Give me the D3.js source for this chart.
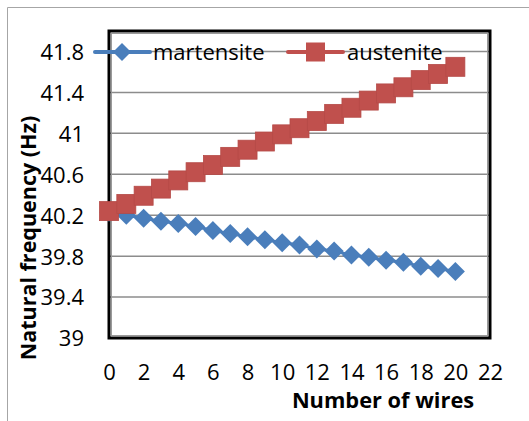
<!DOCTYPE html>
<html><head><meta charset="utf-8">
<script src="https://cdn.jsdelivr.net/npm/d3@7"></script>
<style>body{margin:0;background:#fff}svg{display:block}</style>
</head><body>
<svg id="c" width="529" height="421"></svg>
<script>
const wires = [0,1,2,3,4,5,6,7,8,9,10,11,12,13,14,15,16,17,18,19,20];
const martensite = [40.23,40.20,40.17,40.14,40.12,40.09,40.05,40.02,39.99,39.96,39.93,39.91,39.87,39.85,39.81,39.79,39.76,39.74,39.70,39.68,39.65];
const austenite = [40.24,40.31,40.39,40.46,40.54,40.62,40.69,40.77,40.84,40.92,40.99,41.05,41.12,41.19,41.25,41.32,41.39,41.45,41.52,41.58,41.65];
const yTicks = [39,39.4,39.8,40.2,40.6,41,41.4,41.8];
const xTicks = [0,2,4,6,8,10,12,14,16,18,20,22];
const seriesNames = ["martensite","austenite"];

const svg = d3.select("#c");
const font = "'Open Sans', sans-serif";
const L=109, T=31, R=490, B=338;
const x = d3.scaleLinear().domain([0,22]).range([L,R]);
const y = d3.scaleLinear().domain([39,42]).range([B,T]);

// outer chart border
svg.append("path").attr("d","M7.5,421 V7.5 H529").attr("fill","none").attr("stroke","#a6a6a6").attr("stroke-width",1);

// gridlines
svg.append("g").selectAll("line").data(yTicks.filter(d=>d>39)).join("line")
  .attr("x1",L).attr("x2",R).attr("y1",d=>y(d)).attr("y2",d=>y(d))
  .attr("stroke","#8c8c8c").attr("stroke-width",1.5);

// plot frame
svg.append("rect").attr("x",L).attr("y",T).attr("width",R-L).attr("height",B-T)
  .attr("fill","none").attr("stroke","#000").attr("stroke-width",3);
svg.append("rect").attr("x",L+2.5).attr("y",T+2.5).attr("width",R-L-5).attr("height",B-T-5)
  .attr("fill","none").attr("stroke","#9a9a9a").attr("stroke-width",1);

// axes
const yAxis = d3.axisLeft(y).tickValues(yTicks).tickSize(0).tickPadding(0).tickFormat(d3.format(""));
const gy = svg.append("g").attr("transform",`translate(${L-25},0)`).call(yAxis);
gy.select(".domain").remove();
gy.selectAll("text").attr("font-family",font).attr("font-size",22).attr("fill","#000").attr("dy","0.36em");

const xAxis = d3.axisBottom(x).tickValues(xTicks).tickSize(0).tickPadding(0).tickFormat(d3.format(""));
const gx = svg.append("g").attr("transform",`translate(0,${B+26})`).call(xAxis);
gx.select(".domain").remove();
gx.selectAll("text").attr("font-family",font).attr("font-size",22).attr("fill","#000").attr("dy","0.72em");

// axis titles
svg.append("text").attr("x",383).attr("y",408).attr("text-anchor","middle")
  .attr("font-family",font).attr("font-weight","bold").attr("font-size",21.8).text("Number of wires");
svg.append("text").attr("transform","translate(36,238) rotate(-90)").attr("text-anchor","middle")
  .attr("font-family",font).attr("font-weight","bold").attr("font-size",21.5).text("Natural frequency (Hz)");

const blue="#4a7ebb", red="#c0504d";
const line = d3.line().x((d,i)=>x(wires[i])).y(d=>y(d));

const diamond = (cx,cy,r)=>`M${cx},${cy-r}L${cx+r},${cy}L${cx},${cy+r}L${cx-r},${cy}Z`;

// austenite
svg.append("path").datum(austenite).attr("d",line).attr("fill","none").attr("stroke",red).attr("stroke-width",3);
// martensite
svg.append("path").datum(martensite).attr("d",line).attr("fill","none").attr("stroke",blue).attr("stroke-width",3);
svg.append("g").selectAll("path").data(martensite).join("path")
  .attr("d",(d,i)=>diamond(x(wires[i]),y(d),9.5)).attr("fill",blue);
svg.append("g").selectAll("rect").data(austenite).join("rect")
  .attr("x",(d,i)=>x(wires[i])-9.5).attr("y",d=>y(d)-9.5).attr("width",19).attr("height",19)
  .attr("fill",red).attr("stroke","#b54a47").attr("stroke-width",0.8);

// legend
const ly = 52;
const lg = svg.append("g");
lg.append("line").attr("x1",95).attr("x2",150).attr("y1",ly).attr("y2",ly).attr("stroke",blue).attr("stroke-width",4).attr("stroke-linecap","round");
lg.append("path").attr("d",diamond(122,ly,9)).attr("fill",blue);
lg.append("text").attr("x",153).attr("y",ly).attr("dy","0.36em").attr("font-family",font).attr("font-size",22).text(seriesNames[0]);
lg.append("line").attr("x1",288).attr("x2",343).attr("y1",ly).attr("y2",ly).attr("stroke",red).attr("stroke-width",4).attr("stroke-linecap","round");
lg.append("rect").attr("x",306).attr("y",ly-9.5).attr("width",19).attr("height",19).attr("fill",red);
lg.append("text").attr("x",347).attr("y",ly).attr("dy","0.36em").attr("font-family",font).attr("font-size",22).text(seriesNames[1]);
</script>
</body></html>
